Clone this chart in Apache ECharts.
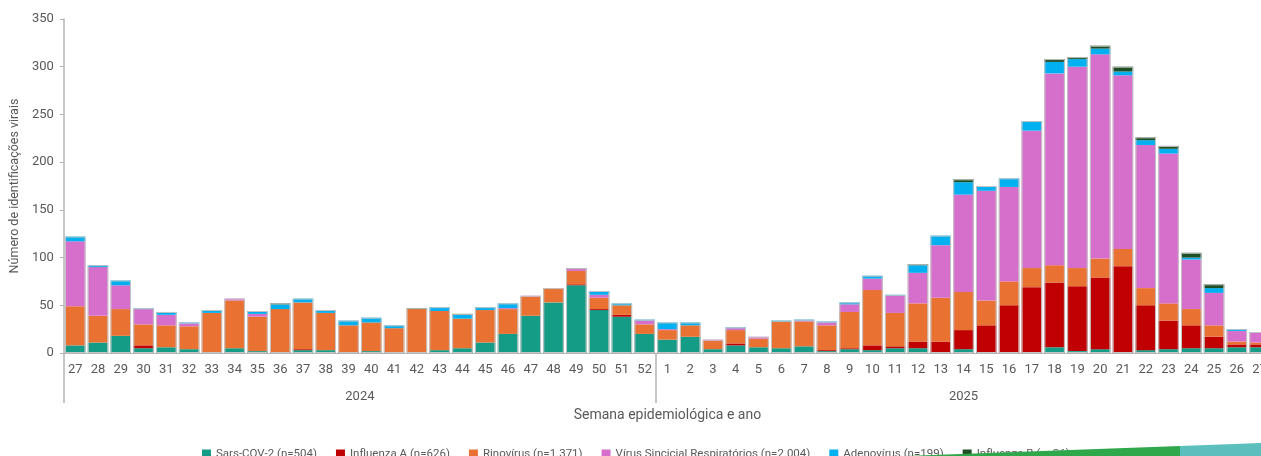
<!DOCTYPE html>
<html>
<head>
<meta charset="utf-8">
<title>Identificações virais por semana epidemiológica</title>
<script src="https://cdn.jsdelivr.net/npm/echarts@6/dist/echarts.min.js"></script>
<style>
  html, body { margin: 0; padding: 0; background: #ffffff; overflow: hidden; }
  #chart { width: 1271px; height: 456px; }
</style>
</head>
<body>
<div id="chart"></div>
<script>
// Semanas epidemiológicas (2024: 27–52, 2025: 1–27)
const weeks2024 = ['27','28','29','30','31','32','33','34','35','36','37','38','39','40','41','42','43','44','45','46','47','48','49','50','51','52'];
const weeks2025 = ['1','2','3','4','5','6','7','8','9','10','11','12','13','14','15','16','17','18','19','20','21','22','23','24','25','26','27'];
const years = ['2024', '2025'];

// Identificações por vírus e semana
const sarsCov2   = [8,11,18,5,6,4,0,5,2,0,3,3,0,2,1,0,3,5,11,20,39,53,71,45,38,20,
                    14,17,4,8,6,5,7,2,4,3,5,5,0,4,0,0,0,6,2,4,0,3,4,5,5,6,6];
const influenzaA = [0,0,0,3,0,0,0,0,0,1,1,0,1,0,0,0,0,0,0,0,0,0,1,1,2,0,
                    0,0,0,2,0,0,0,1,1,5,2,7,12,20,29,50,69,68,68,75,91,47,30,24,12,3,3];
const rinovirus  = [41,28,28,22,23,24,42,50,36,45,49,39,28,30,25,46,41,31,34,26,20,15,14,12,10,10,
                    10,12,9,14,9,28,26,26,38,58,35,40,46,40,26,25,20,18,19,20,18,18,18,17,12,3,2];
const vsr        = [68,51,25,16,11,3,0,2,3,0,0,0,0,0,0,0,0,0,0,1,1,0,2,3,0,4,
                    1,0,1,2,2,0,1,3,8,12,18,32,55,102,115,99,144,201,211,214,182,150,157,52,34,11,10];
const adenovirus = [5,2,5,1,3,1,3,0,3,5,4,3,5,5,3,0,4,4,3,5,0,0,0,4,2,1,
                    7,3,0,1,0,1,1,1,2,3,1,8,10,13,5,9,10,12,8,6,4,5,5,2,5,2,1];
const influenzaB = [0,0,0,0,0,0,0,0,0,1,0,0,0,0,0,1,0,1,0,0,0,0,1,0,0,0,
                    0,0,0,0,0,0,0,0,0,0,0,1,0,3,0,0,0,3,2,3,5,3,3,5,4,0,0];

const seriesNames = [
  'Sars-COV-2 (n=504)',
  'Influenza A (n=626)',
  'Rinovírus (n=1.371)',
  'Vírus Sincicial Respiratórios (n=2.004)',
  'Adenovírus (n=199)',
  'Influenza B (n=36)'
];
const seriesValues = [sarsCov2, influenzaA, rinovirus, vsr, adenovirus, influenzaB];
const seriesColors = ['#149C87', '#C00000', '#E97132', '#D66FCB', '#00B0F0', '#1E4F25'];

const categories = weeks2024.concat(weeks2025);
const totals = categories.map((_, i) => seriesValues.reduce((s, arr) => s + arr[i], 0));

const textColor = '#595959';
const axisColor = '#B4B4B4';
const fontFamily = 'Roboto, "Noto Sans", sans-serif';

const chart = echarts.init(document.getElementById('chart'), null, { renderer: 'canvas' });

const stacked = seriesNames.map((name, k) => ({
  name: name,
  type: 'bar',
  stack: 'total',
  xAxisIndex: 0,
  barCategoryGap: '10%',
  itemStyle: { color: seriesColors[k] },
  emphasis: { disabled: true },
  data: seriesValues[k]
}));

// Contorno cinza claro em volta de cada barra empilhada
const outline = {
  name: 'contorno',
  type: 'bar',
  xAxisIndex: 0,
  barGap: '-100%',
  barCategoryGap: '10%',
  silent: true,
  z: 3,
  itemStyle: { color: 'rgba(0,0,0,0)', borderColor: '#C4C4C4', borderWidth: 1 },
  data: totals
};

chart.setOption({
  animation: false,
  backgroundColor: '#ffffff',
  textStyle: { fontFamily: fontFamily },
  grid: { left: 60, right: 0, top: 19, bottom: 103, containLabel: false },
  legend: {
    data: seriesNames,
    bottom: -9,
    left: 197,
    icon: 'rect',
    itemWidth: 9,
    itemHeight: 9,
    itemGap: 19,
    textStyle: { color: textColor, fontSize: 11.5, fontFamily: fontFamily }
  },
  xAxis: [
    {
      type: 'category',
      data: categories,
      position: 'bottom',
      name: 'Semana epidemiológica e ano',
      nameLocation: 'middle',
      nameGap: 55,
      nameTextStyle: { color: textColor, fontSize: 14, fontFamily: fontFamily },
      axisLine: { show: true, lineStyle: { color: axisColor, width: 1 } },
      axisTick: {
        show: true,
        length: 50,
        interval: (index) => index === 0 || index === weeks2024.length,
        lineStyle: { color: axisColor, width: 1.5 }
      },
      axisLabel: { interval: 0, color: textColor, fontSize: 13, margin: 10, fontFamily: fontFamily },
      splitLine: { show: false }
    },
    {
      // Segundo nível do eixo: ano
      type: 'value',
      min: 0,
      max: categories.length,
      position: 'bottom',
      axisLine: { show: false },
      axisTick: { show: false },
      splitLine: { show: false },
      axisLabel: {
        customValues: [weeks2024.length / 2, weeks2024.length + weeks2025.length / 2],
        formatter: (v) => (v < weeks2024.length ? years[0] : years[1]),
        color: textColor,
        fontSize: 13,
        margin: 37,
        fontFamily: fontFamily
      }
    }
  ],
  yAxis: {
    type: 'value',
    min: 0,
    max: 350,
    interval: 50,
    name: 'Número de identificações virais',
    nameLocation: 'middle',
    nameGap: 33,
    nameTextStyle: { color: textColor, fontSize: 12.5, fontFamily: fontFamily },
    axisLine: { show: true, lineStyle: { color: axisColor, width: 1.5 } },
    axisTick: { show: true, length: 4, lineStyle: { color: axisColor } },
    axisLabel: { color: textColor, fontSize: 13, margin: 10, fontFamily: fontFamily },
    splitLine: { show: false }
  },
  graphic: [
    {
      // Faixas decorativas do rodapé
      type: 'polygon',
      left: 905,
      bottom: 0,
      z: 100,
      silent: true,
      shape: { points: [[0, 10], [275, 0], [275, 10]] },
      style: { fill: '#2EA84B' }
    },
    {
      type: 'polygon',
      left: 1180,
      bottom: 0,
      z: 100,
      silent: true,
      shape: { points: [[0, 3], [81, 0], [81, 13], [0, 13]] },
      style: { fill: '#5BBFBE' }
    }
  ],
  series: stacked.concat([outline])
});
</script>
</body>
</html>
